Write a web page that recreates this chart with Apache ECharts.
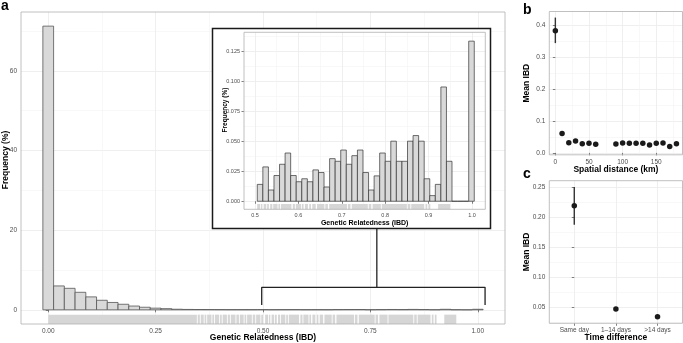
<!DOCTYPE html>
<html><head><meta charset="utf-8">
<script src="https://cdn.jsdelivr.net/npm/echarts@6/dist/echarts.min.js"></script>
<style>html,body{margin:0;padding:0;background:#fff}#c{width:683px;height:343px}</style>
</head><body><div id="c"></div>
<script>
// ---------- DATA ----------
const mainBinWidth = 0.025;
const mainFreq = [71.25, 6.0, 5.4, 4.4, 3.25, 2.4, 1.85, 1.4, 0.95, 0.65, 0.42, 0.3, 0.15, 0.1, 0.08, 0.07, 0.06, 0.05, 0.05, 0.05,
  0.055, 0.04, 0.052, 0.062, 0.035, 0.042, 0.036, 0.069, 0.074, 0.081, 0.033, 0.062, 0.084, 0.067, 0.105, 0.069, 0.019, 0.129, 0.03, 0, 0.134];
const insetBinStart = 0.5053;
const insetBinWidth = 0.01282;
const insetFreq = [0.0141, 0.0287, 0.0094, 0.0215, 0.0309, 0.0403, 0.0215, 0.0163, 0.0188, 0.0163, 0.0262, 0.0240, 0.0119,
  0.0356, 0.0334, 0.0428, 0.0309, 0.0381, 0.0428, 0.0240, 0.0094, 0.0212, 0.0403, 0.0334, 0.0502, 0.0334, 0.0334,
  0.0502, 0.0549, 0.0502, 0.0188, 0.0047, 0.0141, 0.0955, 0.0334, 0, 0, 0, 0.1338];
const rugRanges = [[0.000, 0.346],
  [0.348, 0.353], [0.355, 0.362], [0.364, 0.368], [0.370, 0.380], [0.382, 0.386], [0.388, 0.398], [0.400, 0.404],
  [0.406, 0.416], [0.418, 0.423], [0.425, 0.436], [0.438, 0.444], [0.446, 0.455], [0.457, 0.461], [0.463, 0.474],
  [0.476, 0.482], [0.484, 0.494], [0.496, 0.500], [0.505, 0.512], [0.514, 0.517], [0.520, 0.526], [0.528, 0.532],
  [0.535, 0.540], [0.542, 0.552], [0.554, 0.558], [0.560, 0.584], [0.587, 0.592], [0.594, 0.606], [0.608, 0.612],
  [0.615, 0.622], [0.625, 0.629], [0.632, 0.640], [0.643, 0.660], [0.662, 0.668], [0.671, 0.712], [0.714, 0.720],
  [0.723, 0.760], [0.762, 0.768], [0.771, 0.790], [0.792, 0.850], [0.852, 0.858], [0.860, 0.890], [0.893, 0.897],
  [0.900, 0.904], [0.922, 0.950]];
const bracketH = [[0.497, 1.2], [0.497, 5.65], [1.017, 5.65], [1.017, 1.2]];
const bracketStem = [[0.765, 5.65], [0.765, 20.3]];

const distKm = [0, 10, 20, 30, 40, 50, 60, 90, 100, 110, 120, 130, 140, 150, 160, 170, 180];
const distMean = [0.383, 0.061, 0.032, 0.037, 0.029, 0.030, 0.027, 0.028, 0.031, 0.030, 0.030, 0.030, 0.025, 0.030, 0.031, 0.020, 0.029];
const distLow = [0.344, 0.059, 0.030, 0.035, 0.027, 0.028, 0.025, 0.026, 0.029, 0.028, 0.028, 0.028, 0.023, 0.028, 0.029, 0.018, 0.027];
const distHigh = [0.424, 0.063, 0.034, 0.039, 0.031, 0.032, 0.029, 0.030, 0.033, 0.032, 0.032, 0.032, 0.027, 0.032, 0.033, 0.022, 0.031];

const timeCats = ['Same day', '1\u201314 days', '>14 days'];
const timeMean = [0.220, 0.047, 0.034];
const timeLow = [0.188, 0.045, 0.032];
const timeHigh = [0.251, 0.049, 0.036];

const mainXTicks = [0, 0.25, 0.5, 0.75, 1.0];
const mainXMinor = [0.125, 0.375, 0.625, 0.875];
const mainYTicks = [0, 20, 40, 60];
const mainYMinor = [10, 30, 50, 70];
const insetXTicks = [0.5, 0.6, 0.7, 0.8, 0.9, 1.0];
const insetXMinor = [0.55, 0.65, 0.75, 0.85, 0.95];
const insetYTicks = [0, 0.025, 0.05, 0.075, 0.1, 0.125];
const insetYMinor = [0.0125, 0.0375, 0.0625, 0.0875, 0.1125, 0.1375];
const bXTicks = [0, 50, 100, 150];
const bXMinor = [25, 75, 125, 175];
const bYTicks = [0, 0.1, 0.2, 0.3, 0.4];
const bYMinor = [0.05, 0.15, 0.25, 0.35];
const cXTicks = [0, 1, 2];
const cYTicks = [0.05, 0.10, 0.15, 0.20, 0.25];
const cYMinor = [0.025, 0.075, 0.125, 0.175, 0.225];

// ---------- CHART ----------
const FONT = "'Liberation Sans', Arial, Helvetica, sans-serif";
const TICKC = '#4d4d4d';
const R = {
  main: {x: [-0.0634, 1.0634], y: [-3.56, 74.8]},
  inset: {x: [0.4747, 1.0307], y: [-0.00673, 0.1412]},
  b: {x: [-9, 189], y: [-0.006, 0.443]},
  c: {x: [-0.6, 2.6], y: [0.0232, 0.2617]}
};

function majorAxis(o) {
  const ax = {
    type: 'value', gridIndex: o.grid, position: o.pos, min: o.range[0], max: o.range[1],
    zlevel: o.zlevel || 0, z: o.z || 0,
    axisLine: {show: false},
    axisTick: {show: true, length: o.tickLen || 2.5, customValues: o.ticks, lineStyle: {color: TICKC, width: 0.7}},
    axisLabel: {show: true, customValues: o.ticks, formatter: o.fmt, color: TICKC, fontSize: o.fs || 6.5,
      fontFamily: FONT, margin: o.margin || 4, hideOverlap: false, showMinLabel: true, showMaxLabel: true},
    splitLine: {show: true, lineStyle: {color: '#ebebeb', width: 0.8}},
    minorTick: {show: false}, minorSplitLine: {show: false}
  };
  if (o.name) {
    ax.name = o.name; ax.nameLocation = 'middle'; ax.nameGap = o.nameGap; ax.nameMoveOverlap = false;
    ax.nameTextStyle = {fontFamily: FONT, fontWeight: 'bold', fontSize: o.nfs || 8.5, color: '#000'};
  }
  return ax;
}
function minorAxis(o) {
  return {
    type: 'value', gridIndex: o.grid, position: o.pos, min: o.range[0], max: o.range[1],
    zlevel: o.zlevel || 0, z: o.z || 0,
    axisLine: {show: false},
    axisTick: {show: false, customValues: o.ticks},
    axisLabel: {show: false, customValues: o.ticks},
    splitLine: {show: true, lineStyle: {color: '#f3f3f3', width: 0.6}}
  };
}

const histItem = (fill, stroke, lw) => function (params, api) {
  const x0 = api.value(0), x1 = api.value(1), h = api.value(2);
  const p0 = api.coord([x0, 0]);
  const p1 = api.coord([x1, h]);
  return {type: 'rect', shape: {x: p0[0], y: p1[1], width: p1[0] - p0[0], height: p0[1] - p1[1]},
    style: {fill: fill, stroke: stroke, lineWidth: lw}};
};
const rugItem = (yr) => function (params, api) {
  const yMin = yr[0], yTop = yr[0] + 0.03 * (yr[1] - yr[0]);
  const a = api.coord([api.value(0), yMin]);
  const b = api.coord([api.value(1), yTop]);
  return {type: 'rect', shape: {x: a[0], y: b[1], width: Math.max(b[0] - a[0], 0.7), height: a[1] - b[1]},
    style: {fill: '#d6d6d6'}};
};
const errItem = function (params, api) {
  const x = api.value(0);
  const p1 = api.coord([x, api.value(1)]);
  const p2 = api.coord([x, api.value(2)]);
  return {type: 'line', shape: {x1: p1[0], y1: p1[1], x2: p2[0], y2: p2[1]}, style: {stroke: '#333', lineWidth: 1.4}};
};
// rotated y-axis title placed at the middle of a panel's left edge (through the axis scale)
const yTitleSeries = (xi, yi, range, text, gap) => ({
  type: 'custom', xAxisIndex: xi, yAxisIndex: yi, silent: true, z: 5,
  data: [[range.x[0], (range.y[0] + range.y[1]) / 2]],
  renderItem: function (params, api) {
    const p = api.coord([api.value(0), api.value(1)]);
    return {type: 'text', x: p[0] - gap, y: p[1], rotation: Math.PI / 2,
      style: {text: text, fill: '#000', font: 'bold 8.5px ' + FONT, align: 'center', verticalAlign: 'middle'}};
  }
});

const mainHistData = mainFreq.map((v, i) => [i * mainBinWidth - mainBinWidth / 2, i * mainBinWidth + mainBinWidth / 2, v]);
const insetHistData = insetFreq.map((v, i) => [insetBinStart + i * insetBinWidth, insetBinStart + (i + 1) * insetBinWidth, v]);
const insetRug = rugRanges.filter(r => r[1] > 0.5).map(r => [Math.max(r[0], 0.5), r[1]]);

const f2 = v => v.toFixed(2), f1 = v => v.toFixed(1), f3 = v => v.toFixed(3), f0 = v => String(v);
const gridBase = {show: true, borderColor: '#b0b0b0', borderWidth: 0.8, backgroundColor: 'transparent', z: 3,
  containLabel: false, outerBoundsMode: 'none'};
const yTitle = (text, x, y, size, extra) => Object.assign({
  type: 'text', x: x, y: y, rotation: Math.PI / 2, z: 10,
  style: {text: text, fill: '#000', font: 'bold ' + size + 'px ' + FONT, align: 'center', verticalAlign: 'middle'}
}, extra || {});

const option = {
  animation: false,
  backgroundColor: '#fff',
  textStyle: {fontFamily: FONT},
  title: [
    {text: 'a', left: 1, top: -1, padding: 0, textStyle: {fontFamily: FONT, fontSize: 14, fontWeight: 'bold', color: '#000'}},
    {text: 'b', left: 523, top: 3, padding: 0, textStyle: {fontFamily: FONT, fontSize: 14, fontWeight: 'bold', color: '#000'}},
    {text: 'c', left: 523, top: 167, padding: 0, textStyle: {fontFamily: FONT, fontSize: 14, fontWeight: 'bold', color: '#000'}}
  ],
  graphic: {elements: [
    {type: 'rect', zlevel: 1, z: 0, shape: {x: 212.5, y: 28.5, width: 278, height: 200},
      style: {fill: '#fff', stroke: '#1a1a1a', lineWidth: 1.5}},
    yTitle('Frequency (%)', 6, 160, 8.5),
    yTitle('Frequency (%)', 225.5, 110, 6.5, {zlevel: 1}),
    yTitle('Mean IBD', 527, 252, 8.5)
  ]},
  grid: [
    Object.assign({}, gridBase, {left: 21, top: 12, width: 484, height: 312}),
    Object.assign({}, gridBase, {left: 244, top: 32.3, width: 241.3, height: 177, zlevel: 1}),
    Object.assign({}, gridBase, {left: 549.3, top: 11.5, width: 133.2, height: 143.3}),
    Object.assign({}, gridBase, {left: 549.3, top: 180.7, width: 133.2, height: 142.6})
  ],
  xAxis: [
    majorAxis({grid: 0, pos: 'bottom', range: R.main.x, ticks: mainXTicks, fmt: f2, margin: 3.5,
      name: 'Genetic Relatedness (IBD)', nameGap: 9}),
    minorAxis({grid: 0, pos: 'top', range: R.main.x, ticks: mainXMinor}),
    majorAxis({grid: 1, pos: 'bottom', range: R.inset.x, ticks: insetXTicks, fmt: f1, margin: 3, fs: 5.5, zlevel: 1, z: 1,
      name: 'Genetic Relatedness (IBD)', nameGap: 10, nfs: 7}),
    minorAxis({grid: 1, pos: 'top', range: R.inset.x, ticks: insetXMinor, zlevel: 1, z: 1}),
    majorAxis({grid: 2, pos: 'bottom', range: R.b.x, ticks: bXTicks, fmt: f0, margin: 3.5,
      name: 'Spatial distance (km)', nameGap: 10}),
    minorAxis({grid: 2, pos: 'top', range: R.b.x, ticks: bXMinor}),
    majorAxis({grid: 3, pos: 'bottom', range: R.c.x, ticks: cXTicks, fmt: v => timeCats[v], margin: 3.5,
      name: 'Time difference', nameGap: 10})
  ],
  yAxis: [
    majorAxis({grid: 0, pos: 'left', range: R.main.y, ticks: mainYTicks, fmt: f0, margin: 4}),
    minorAxis({grid: 0, pos: 'right', range: R.main.y, ticks: mainYMinor}),
    majorAxis({grid: 1, pos: 'left', range: R.inset.y, ticks: insetYTicks, fmt: f3, margin: 4, fs: 5.5, zlevel: 1, z: 1}),
    minorAxis({grid: 1, pos: 'right', range: R.inset.y, ticks: insetYMinor, zlevel: 1, z: 1}),
    majorAxis({grid: 2, pos: 'left', range: R.b.y, ticks: bYTicks, fmt: f1, margin: 4}),
    minorAxis({grid: 2, pos: 'right', range: R.b.y, ticks: bYMinor}),
    majorAxis({grid: 3, pos: 'left', range: R.c.y, ticks: cYTicks, fmt: f2, margin: 4}),
    minorAxis({grid: 3, pos: 'right', range: R.c.y, ticks: cYMinor})
  ],
  series: [
    {type: 'custom', xAxisIndex: 0, yAxisIndex: 0, renderItem: rugItem(R.main.y), data: rugRanges, silent: true, z: 1},
    {type: 'custom', xAxisIndex: 0, yAxisIndex: 0, renderItem: histItem('#d9d9d9', '#555', 0.8), data: mainHistData, z: 2},
    {type: 'line', xAxisIndex: 0, yAxisIndex: 0, data: bracketH, symbol: 'none', lineStyle: {color: '#222', width: 1.3}, z: 4},
    {type: 'line', xAxisIndex: 0, yAxisIndex: 0, data: bracketStem, symbol: 'none', lineStyle: {color: '#222', width: 1.3}, z: 4},
    {type: 'custom', xAxisIndex: 2, yAxisIndex: 2, renderItem: rugItem(R.inset.y), data: insetRug, zlevel: 1, z: 2},
    {type: 'custom', xAxisIndex: 2, yAxisIndex: 2, renderItem: histItem('#d9d9d9', '#333', 0.7), data: insetHistData, zlevel: 1, z: 2},
    {type: 'custom', xAxisIndex: 4, yAxisIndex: 4, renderItem: errItem, data: distKm.map((d, i) => [d, distLow[i], distHigh[i]]), z: 2},
    {type: 'scatter', xAxisIndex: 4, yAxisIndex: 4, data: distKm.map((d, i) => [d, distMean[i]]), symbolSize: 5.5,
      itemStyle: {color: '#1a1a1a', opacity: 1}, z: 3},
    {type: 'custom', xAxisIndex: 6, yAxisIndex: 6, renderItem: errItem, data: timeCats.map((c, i) => [i, timeLow[i], timeHigh[i]]), z: 2},
    {type: 'scatter', xAxisIndex: 6, yAxisIndex: 6, data: timeCats.map((c, i) => [i, timeMean[i]]), symbolSize: 5.5,
      itemStyle: {color: '#1a1a1a', opacity: 1}, z: 3},
    yTitleSeries(4, 4, R.b, 'Mean IBD', 22.3)
  ]
};
const chart = echarts.init(document.getElementById('c'), null, {renderer: 'canvas'});
chart.setOption(option);
</script></body></html>
